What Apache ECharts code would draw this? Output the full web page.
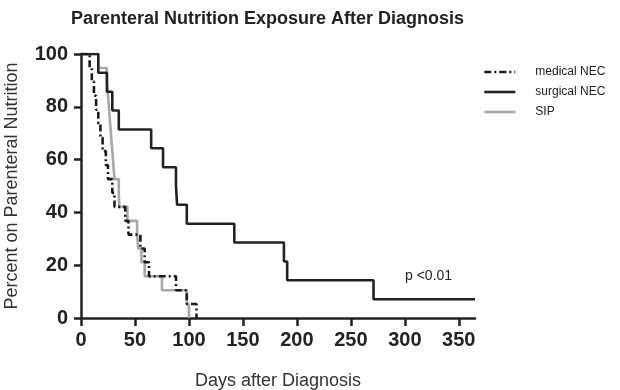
<!DOCTYPE html>
<html>
<head>
<meta charset="utf-8">
<script src="https://cdn.jsdelivr.net/npm/echarts@6/dist/echarts.min.js"></script>
<style>
  html,body{margin:0;padding:0;background:#fff;}
  #chart{width:620px;height:390px;}
</style>
</head>
<body>
<div id="chart"></div>
<script>
// Kaplan-Meier style steps: each day is where the percent starts
var medicalDays = [0, 8, 10, 12, 14, 16, 18, 20, 23, 25, 29, 31, 41, 44, 55, 59, 63, 88, 98, 107];
var medicalPct = [100, 94.7, 89.5, 84.2, 78.9, 73.7, 68.4, 63.2, 57.9, 52.6, 47.4, 42.1, 36.8, 31.6, 26.3, 21.1, 15.8, 10.5, 5.3, 0];

var surgicalDays = [0, 16, 24, 29, 35, 65, 76, 88, 89, 98, 142, 188, 191, 271, 365];
var surgicalPct = [100, 92.9, 85.7, 78.6, 71.4, 64.3, 57.1, 50, 42.9, 35.7, 28.6, 21.4, 14.3, 7.1, 7.1];

var sipDays = [0, 16, 24, 25, 26, 27, 28, 29, 30, 31, 35, 35.5, 43, 52, 53, 56, 59, 75, 98, 100];
var sipPct = [100, 94.7, 89.5, 84.2, 78.9, 73.7, 68.4, 63.2, 57.9, 52.6, 47.4, 42.1, 36.8, 31.6, 26.3, 21.1, 15.8, 10.5, 5.3, 0];

var xTicks = [0, 50, 100, 150, 200, 250, 300, 350];
var yTicks = [0, 20, 40, 60, 80, 100];
var seriesNames = ['medical NEC', 'surgical NEC', 'SIP'];
var pText = 'p <0.01';

function pairs(xs, ys) {
    var out = [];
    for (var i = 0; i < xs.length; i++) {
        out.push([xs[i], ys[i]]);
    }
    return out;
}

var font = '"Liberation Sans", Arial, sans-serif';
var mychart = echarts.init(document.getElementById('chart'), null, {renderer: 'canvas'});

var option = {
    animation: false,
    backgroundColor: '#fff',
    textStyle: {fontFamily: font},
    title: {
        text: 'Parenteral Nutrition Exposure After Diagnosis',
        left: 66,
        top: 5,
        textStyle: {fontFamily: font, fontSize: 18, fontWeight: 'bold', color: '#222'}
    },
    legend: {
        orient: 'vertical',
        left: 483,
        top: 66,
        padding: 0,
        itemWidth: 31,
        itemHeight: 12,
        itemGap: 8,
        data: seriesNames,
        itemStyle: {opacity: 0, borderWidth: 0},
        lineStyle: {width: 2.6},
        textStyle: {fontFamily: font, fontSize: 12, color: '#222', padding: [0, 0, 0, 15]}
    },
    grid: {
        left: 81,
        right: 145,
        top: 54,
        bottom: 72,
        containLabel: false,
        outerBoundsMode: 'none'
    },
    xAxis: {
        type: 'value',
        min: 0,
        max: 365,
        interval: 50,
        name: 'Days after Diagnosis',
        nameLocation: 'middle',
        nameGap: 54,
        nameTextStyle: {fontFamily: font, fontSize: 18, color: '#333'},
        splitLine: {show: false},
        axisLine: {show: true, onZero: false, lineStyle: {color: '#222', width: 2.5}},
        axisTick: {show: true, length: 8, customValues: xTicks, lineStyle: {color: '#222', width: 2.5}},
        axisLabel: {
            customValues: xTicks,
            margin: 12,
            fontFamily: font, fontSize: 20, fontWeight: 'bold', color: '#222'
        }
    },
    yAxis: {
        type: 'value',
        min: 0,
        max: 100,
        interval: 20,
        name: 'Percent on Parenteral Nutrition',
        nameLocation: 'middle',
        nameGap: 60,
        nameTextStyle: {fontFamily: font, fontSize: 18, color: '#333'},
        splitLine: {show: false},
        axisLine: {show: true, lineStyle: {color: '#222', width: 2.5}},
        axisTick: {show: true, length: 7, lineStyle: {color: '#222', width: 2.5}},
        axisLabel: {
            customValues: yTicks,
            margin: 13,
            fontFamily: font, fontSize: 20, fontWeight: 'bold', color: '#222'
        }
    },
    graphic: [{
        type: 'text',
        left: 405,
        top: 269,
        style: {text: pText, fontFamily: font, fontSize: 14, fill: '#222'}
    }],
    series: [
        {
            name: seriesNames[0],
            type: 'line',
            step: 'end',
            z: 4,
            symbol: 'none',
            color: '#1a1a1a',
            lineStyle: {color: '#1a1a1a', width: 2.6, type: [7, 3, 2, 3]},
            data: pairs(medicalDays, medicalPct)
        },
        {
            name: seriesNames[1],
            type: 'line',
            step: 'end',
            z: 3,
            symbol: 'none',
            color: '#222',
            lineStyle: {color: '#222', width: 2.6},
            data: pairs(surgicalDays, surgicalPct)
        },
        {
            name: seriesNames[2],
            type: 'line',
            step: 'end',
            z: 2,
            symbol: 'none',
            color: '#a8a8a8',
            lineStyle: {color: '#a8a8a8', width: 2.6},
            data: pairs(sipDays, sipPct)
        }
    ]
};
mychart.setOption(option);
</script>
</body>
</html>
